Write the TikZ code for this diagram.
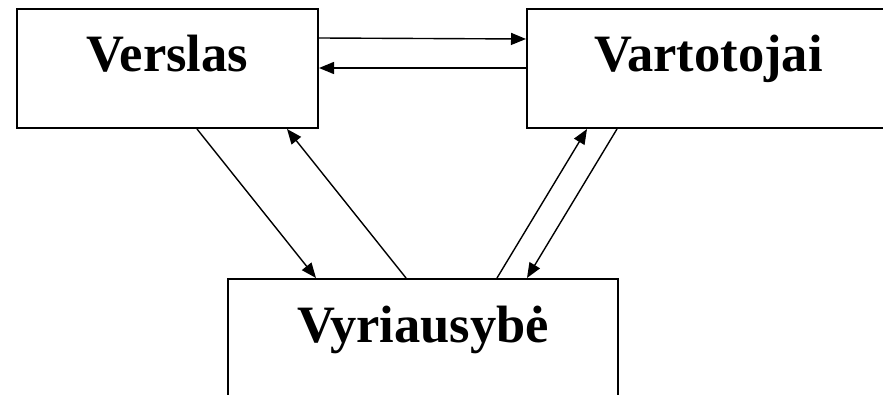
\documentclass[tikz,border=0pt]{standalone}
\usepackage{fontspec}
\setmainfont{Liberation Serif}
\usetikzlibrary{arrows.meta}
\begin{document}
\begin{tikzpicture}[x=1pt,y=-1pt,
  entity/.style={draw=black, line width=2pt, inner xsep=0pt, inner ysep=0pt,
    text height=63pt, text depth=56pt, minimum height=119pt,
    font=\fontsize{52.5}{60}\selectfont\bfseries},
  arr/.style={line width=1.4pt, -{Triangle[length=15pt,width=12pt]}}]
\useasboundingbox (0,0) rectangle (883,395);
\clip (0,0) rectangle (883,395);
\node[entity, minimum width=301pt] (vers) at (167.5,68.5) {Verslas};
\node[entity, minimum width=363pt] (vart) at (708.5,68.5) {Vartotojai};
\node[entity, minimum width=390pt] (vyr) at (423,338.5) {Vyriausybė};
% horizontal
\draw[arr] ([yshift=-30pt]vers.north east) -- ([yshift=-31pt]vart.north west);
\draw[arr] ([yshift=-60pt]vart.north west) -- ([yshift=-60pt]vers.north east);
% diagonals
\draw[arr] ([xshift=181pt]vers.south west) -- ([xshift=89pt]vyr.north west);
\draw[arr] ([xshift=179pt]vyr.north west) -- ([xshift=271pt]vers.south west);
\draw[arr] ([xshift=270pt]vyr.north west) -- ([xshift=61pt]vart.south west);
\draw[arr] ([xshift=91pt]vart.south west) -- ([xshift=300pt]vyr.north west);
\end{tikzpicture}
\end{document}
